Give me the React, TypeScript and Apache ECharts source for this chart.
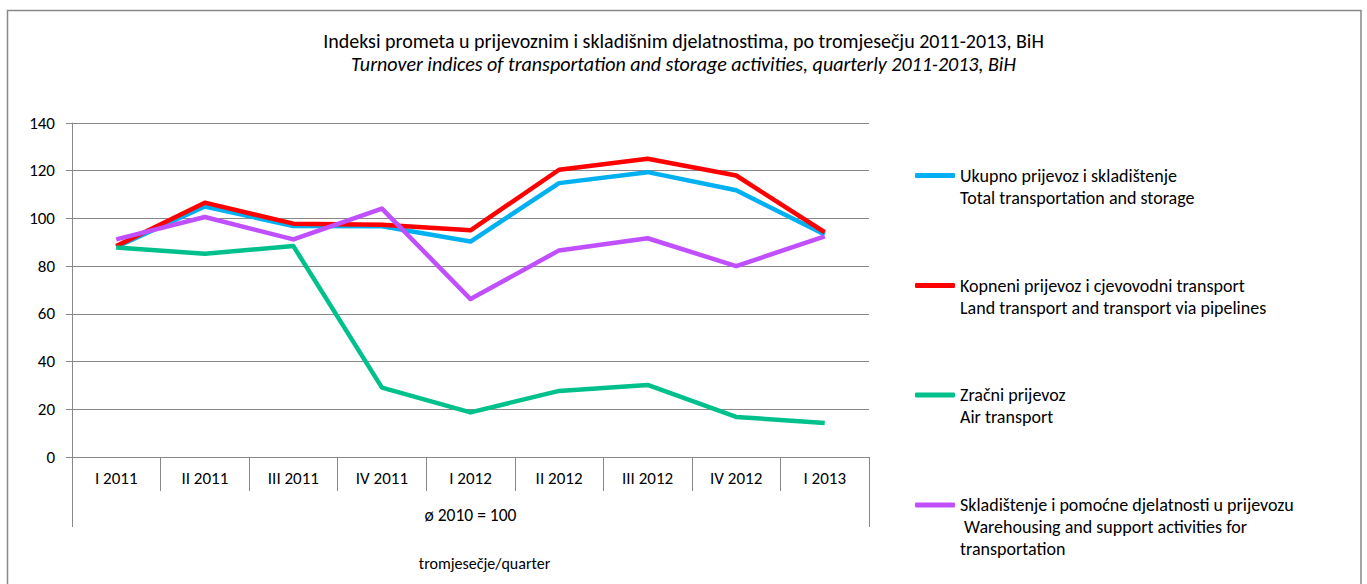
import React, { useEffect, useRef } from "react";
import * as echarts from "echarts";

const categories = ["I 2011", "II 2011", "III 2011", "IV 2011", "I 2012", "II 2012", "III 2012", "IV 2012", "I 2013"];
const baseLabel = "ø 2010 = 100";
const axisTitle = "tromjesečje/quarter";
const titleMain = "Indeksi prometa u prijevoznim i skladišnim djelatnostima, po tromjesečju 2011-2013, BiH";
const titleSub = "Turnover indices of transportation and storage activities, quarterly 2011-2013, BiH";

const seriesNames = [
  "Ukupno prijevoz i skladištenje\nTotal transportation and storage",
  "Kopneni prijevoz i cjevovodni transport\nLand transport and transport via pipelines",
  "Zračni prijevoz\nAir transport",
  "Skladištenje i pomoćne djelatnosti u prijevozu\n Warehousing and support activities for\ntransportation",
];
const seriesColors = ["#00b0f0", "#ff0000", "#00c08c", "#c050ff"];

const totalValues = [88, 105, 96.8, 96.7, 90.3, 114.8, 119.4, 111.8, 93.3];
const landValues = [88.4, 106.6, 97.8, 97.4, 95, 120.4, 125, 118, 94.2];
const airValues = [87.8, 85.2, 88.4, 29.1, 18.7, 27.7, 30.2, 16.8, 14.3];
const warehousingValues = [91.2, 100.6, 91.2, 104.1, 66.2, 86.6, 91.7, 80, 92.5];

const allValues = [totalValues, landValues, airValues, warehousingValues];
const legendIconCenters = [175.5, 285.5, 395, 505];

const FONT = "Carlito, Lato, sans-serif";

export default function App() {
  const ref = useRef<HTMLDivElement>(null);
  useEffect(() => {
    if (!ref.current) return;
    const chart = echarts.init(ref.current, null, { renderer: "svg" });
    const lh = 22;
    const legends = seriesNames.map((name, i) => {
      const n = name.split("\n").length;
      return {
        data: [name],
        orient: "vertical",
        left: 915,
        top: legendIconCenters[i] - (2 * n - 1) * (lh / 2),
        padding: 0,
        itemWidth: 40,
        itemHeight: 5,
        icon: "roundRect",
        itemGap: 0,
        selectedMode: false,
        formatter: (nm: string) => "\n".repeat(n - 1) + nm,
        textStyle: {
          fontFamily: FONT,
          fontSize: 18,
          color: "#000",
          lineHeight: lh,
        },
      };
    });
    chart.setOption({
      animation: false,
      backgroundColor: "#fff",
      title: {
        text: titleMain,
        subtext: titleSub,
        left: "center",
        top: 26,
        itemGap: 3,
        textStyle: { fontFamily: FONT, fontSize: 20, fontWeight: "normal", color: "#000" },
        subtextStyle: { fontFamily: FONT, fontSize: 20, fontStyle: "italic", color: "#000" },
      },
      legend: legends,
      grid: { left: 72, right: 498, top: 123, bottom: 127 },
      xAxis: [
        {
          type: "category",
          data: categories,
          position: "bottom",
          boundaryGap: true,
          axisLine: { show: true, lineStyle: { color: "#888", width: 1 } },
          axisTick: { show: true, length: 34, lineStyle: { color: "#888" } },
          axisLabel: { margin: 13, fontFamily: FONT, fontSize: 17, color: "#000" },
          splitLine: { show: false },
        },
        {
          type: "category",
          data: [baseLabel],
          position: "bottom",
          boundaryGap: true,
          axisLine: { show: false },
          axisTick: { show: true, length: 70, lineStyle: { color: "#888" } },
          axisLabel: { margin: 49, fontFamily: FONT, fontSize: 17.5, color: "#000" },
          name: axisTitle,
          nameLocation: "middle",
          nameGap: 98,
          nameTextStyle: { fontFamily: FONT, fontSize: 16, color: "#000", padding: [0, 0, 0, 28] },
        },
      ],
      yAxis: {
        type: "value",
        min: 0,
        max: 140,
        interval: 20,
        axisLine: { show: true, lineStyle: { color: "#888", width: 1 } },
        axisTick: { show: true, length: 6, lineStyle: { color: "#888" } },
        axisLabel: { margin: 17, fontFamily: FONT, fontSize: 17, color: "#000" },
        splitLine: { show: true, lineStyle: { color: "#888", width: 1 } },
      },
      graphic: [
        {
          type: "rect",
          shape: { x: 7.5, y: 10.5, width: 1353.5, height: 600 },
          style: { fill: "none", stroke: "#888", lineWidth: 1.5 },
          silent: true,
          z: -1,
        },
      ],
      series: seriesNames.map((name, i) => ({
        name,
        type: "line",
        data: allValues[i],
        xAxisIndex: 0,
        symbol: "none",
        color: seriesColors[i],
        lineStyle: { width: 4.5, color: seriesColors[i], join: "round" },
        z: 2 + i,
      })),
    });
    return () => chart.dispose();
  }, []);
  return (
    <div
      ref={ref}
      style={{ position: "absolute", left: 0, top: 0, width: 1367, height: 584 }}
    />
  );
}
